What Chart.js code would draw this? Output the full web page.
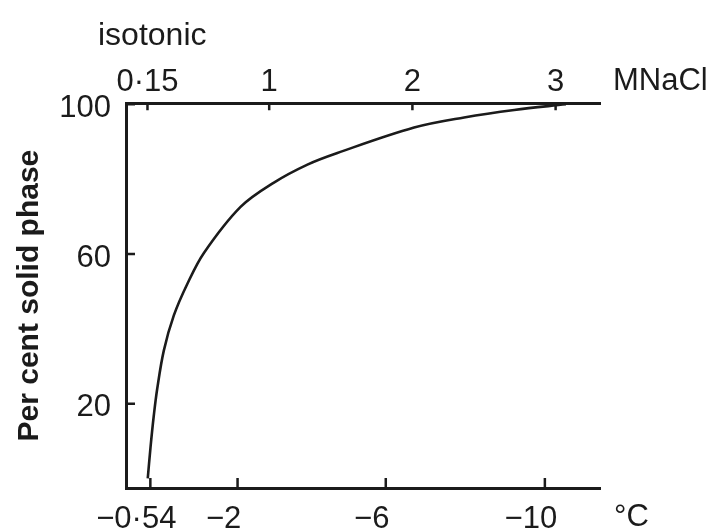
<!DOCTYPE html>
<html>
<head>
<meta charset="utf-8">
<script src="https://cdn.jsdelivr.net/npm/chart.js@4.4.1/dist/chart.umd.min.js"></script>
<style>
  html, body { margin: 0; padding: 0; background: #ffffff; }
  #wrap { width: 713px; height: 531px; }
</style>
</head>
<body>
<div id="wrap"><canvas id="c" width="713" height="531"></canvas></div>
<script>
// NaCl concentration (M) along the curve and the per cent of the sample that is solid
const molarity     = [0.152, 0.171, 0.194, 0.218, 0.264, 0.334, 0.428, 0.544, 0.800, 1.033, 1.267, 1.476, 2.012, 2.361, 2.711, 3.072];
const percentSolid = [0.1,   8.3,   16.8,  24.0,  34.2,  43.6,  52.0,  60.3,  72.6,  79.1,  83.9,  87.0,  93.8,  96.5,  98.5,  100.0];

// upper axis: NaCl molarity
const molarTicks  = [0.15, 1, 2, 3];
const molarLabels = ['0·15', '1', '2', '3'];

// lower axis: temperature (°C), placed at the molarity where that temperature is reached
const tempTickAt  = [0.17, 0.779, 1.814, 2.925];
const tempLabels  = ['−0·54', '−2', '−6', '−10'];

// left axis: per cent solid phase
const percentTicks = [20, 60, 100];

const FONT = "'Liberation Sans', Arial, Helvetica, sans-serif";
const INK = '#1b1b1b';
const X_MIN = 0, X_MAX = 3.31;

// short tick marks pointing into the plot, plus the loose axis captions
const frameMarks = {
  id: 'frameMarks',
  afterDraw(chart) {
    const { ctx, chartArea: a, scales } = chart;
    ctx.save();
    ctx.strokeStyle = INK;
    ctx.lineWidth = 2.5;
    ctx.beginPath();
    scales.y.ticks.forEach(t => {
      const py = scales.y.getPixelForValue(t.value);
      ctx.moveTo(a.left, py); ctx.lineTo(a.left + 9, py);
    });
    scales.x.ticks.forEach(t => {
      const px = scales.x.getPixelForValue(t.value);
      ctx.moveTo(px, a.bottom); ctx.lineTo(px, a.bottom - 10);
    });
    scales.x2.ticks.forEach(t => {
      const px = scales.x2.getPixelForValue(t.value);
      ctx.moveTo(px, a.top); ctx.lineTo(px, a.top + 7);
    });
    ctx.stroke();

    ctx.fillStyle = INK;
    ctx.textBaseline = 'alphabetic';
    ctx.textAlign = 'left';
    ctx.font = `32px ${FONT}`;
    ctx.fillText('isotonic', a.left - 28, 45);
    ctx.font = `31px ${FONT}`;
    ctx.fillText('MNaCl', a.right + 13, 90);
    ctx.fillText('°C', a.right + 14, 526);
    ctx.restore();
  }
};

new Chart(document.getElementById('c'), {
  type: 'scatter',
  data: {
    datasets: [{
      data: molarity.map((m, i) => ({ x: m, y: percentSolid[i] })),
      showLine: true,
      borderColor: INK,
      borderWidth: 2.6,
      pointRadius: 0,
      tension: 0.35,
      fill: false
    }]
  },
  options: {
    responsive: false,
    animation: false,
    devicePixelRatio: 1,
    layout: { padding: { left: 0, right: 113, top: 62, bottom: 0 } },
    plugins: { legend: { display: false }, tooltip: { enabled: false } },
    scales: {
      x: {
        type: 'linear', position: 'bottom', min: X_MIN, max: X_MAX,
        grid: { display: false, drawTicks: false },
        border: { display: true, color: INK, width: 3 },
        afterBuildTicks: s => { s.ticks = tempTickAt.map(v => ({ value: v })); },
        afterFit: s => { s.height = 43; },
        ticks: {
          color: INK, font: { family: FONT, size: 31 }, padding: 13, labelOffset: -14,
          autoSkip: false, maxRotation: 0,
          callback: (v, i) => tempLabels[i]
        }
      },
      x2: {
        type: 'linear', position: 'top', min: X_MIN, max: X_MAX,
        grid: { display: false, drawTicks: false },
        border: { display: true, color: INK, width: 3 },
        afterBuildTicks: s => { s.ticks = molarTicks.map(v => ({ value: v })); },
        ticks: {
          color: INK, font: { family: FONT, size: 31 }, padding: 2,
          autoSkip: false, maxRotation: 0,
          callback: (v, i) => molarLabels[i]
        }
      },
      y: {
        type: 'linear', min: -2.5, max: 100.3,
        grid: { display: false, drawTicks: false },
        border: { display: true, color: INK, width: 3 },
        afterBuildTicks: s => { s.ticks = percentTicks.map(v => ({ value: v })); },
        afterFit: s => { s.width = 126; },
        ticks: { color: INK, font: { family: FONT, size: 31 }, padding: 15, labelOffset: 4 },
        title: {
          display: true, text: 'Per cent solid phase', color: INK,
          font: { family: FONT, size: 30, weight: 'bold' },
          padding: { top: 12, bottom: 0 }
        }
      }
    }
  },
  plugins: [frameMarks]
});
</script>
</body>
</html>
